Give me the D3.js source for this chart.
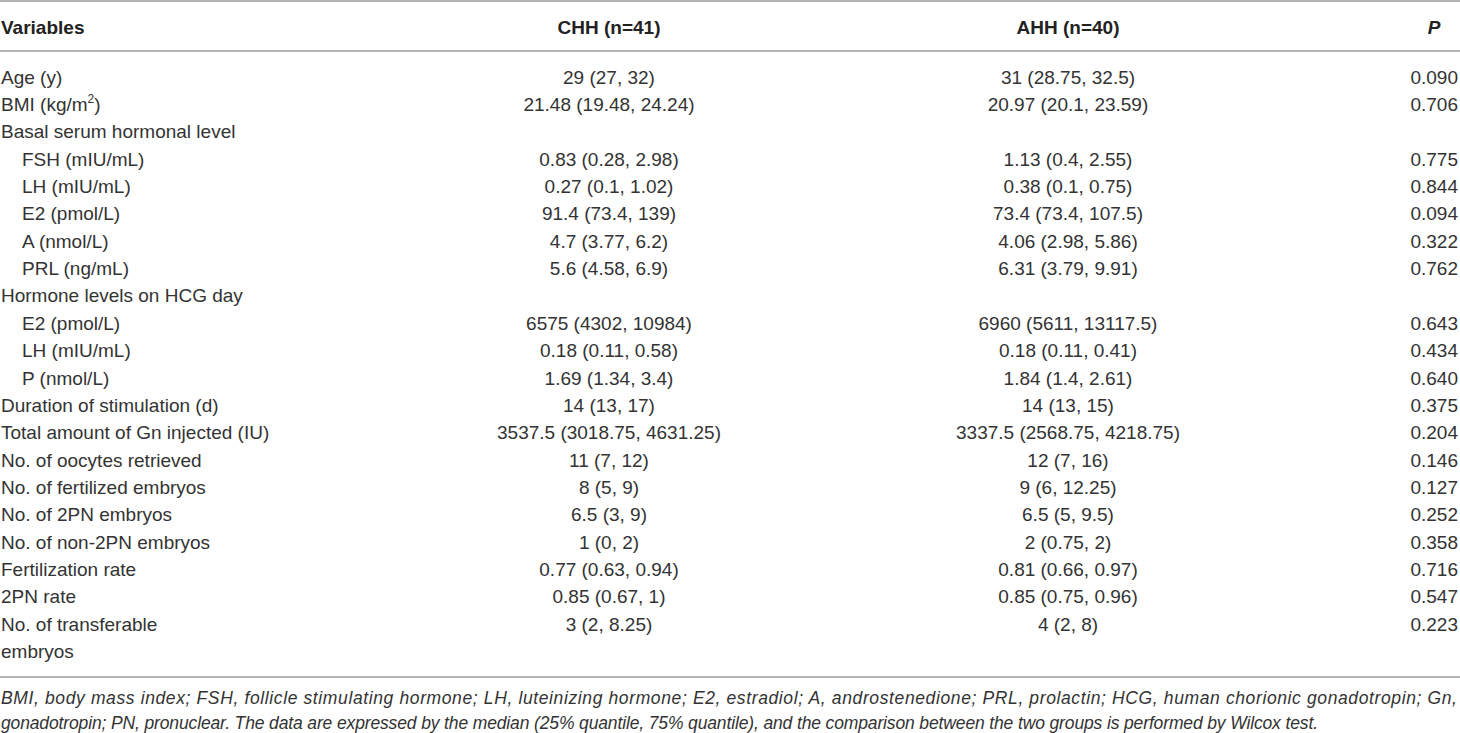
<!DOCTYPE html>
<html>
<head>
<meta charset="utf-8">
<script src="https://cdn.jsdelivr.net/npm/d3@7"></script>
<style>
  html, body { margin: 0; padding: 0; background: #fff; }
  svg { display: block; }
</style>
</head>
<body>
<script>
// ---- DATA ----
const headers = ["Variables", "CHH (n=41)", "AHH (n=40)", "P"];
const variables = [
  "Age (y)", "BMI (kg/m2)", "Basal serum hormonal level", "FSH (mIU/mL)", "LH (mIU/mL)",
  "E2 (pmol/L)", "A (nmol/L)", "PRL (ng/mL)", "Hormone levels on HCG day", "E2 (pmol/L)",
  "LH (mIU/mL)", "P (nmol/L)", "Duration of stimulation (d)", "Total amount of Gn injected (IU)",
  "No. of oocytes retrieved", "No. of fertilized embryos", "No. of 2PN embryos",
  "No. of non-2PN embryos", "Fertilization rate", "2PN rate", "No. of transferable|embryos"
];
const indented = [false,false,false,true,true,true,true,true,false,true,true,true,false,false,false,false,false,false,false,false,false];
const chhValues = [
  "29 (27, 32)", "21.48 (19.48, 24.24)", "", "0.83 (0.28, 2.98)", "0.27 (0.1, 1.02)",
  "91.4 (73.4, 139)", "4.7 (3.77, 6.2)", "5.6 (4.58, 6.9)", "", "6575 (4302, 10984)",
  "0.18 (0.11, 0.58)", "1.69 (1.34, 3.4)", "14 (13, 17)", "3537.5 (3018.75, 4631.25)",
  "11 (7, 12)", "8 (5, 9)", "6.5 (3, 9)", "1 (0, 2)", "0.77 (0.63, 0.94)", "0.85 (0.67, 1)", "3 (2, 8.25)"
];
const ahhValues = [
  "31 (28.75, 32.5)", "20.97 (20.1, 23.59)", "", "1.13 (0.4, 2.55)", "0.38 (0.1, 0.75)",
  "73.4 (73.4, 107.5)", "4.06 (2.98, 5.86)", "6.31 (3.79, 9.91)", "", "6960 (5611, 13117.5)",
  "0.18 (0.11, 0.41)", "1.84 (1.4, 2.61)", "14 (13, 15)", "3337.5 (2568.75, 4218.75)",
  "12 (7, 16)", "9 (6, 12.25)", "6.5 (5, 9.5)", "2 (0.75, 2)", "0.81 (0.66, 0.97)", "0.85 (0.75, 0.96)", "4 (2, 8)"
];
const pValues = [
  "0.090", "0.706", "", "0.775", "0.844", "0.094", "0.322", "0.762", "", "0.643",
  "0.434", "0.640", "0.375", "0.204", "0.146", "0.127", "0.252", "0.358", "0.716", "0.547", "0.223"
];
const footnoteLines = [
  "BMI, body mass index; FSH, follicle stimulating hormone; LH, luteinizing hormone; E2, estradiol; A, androstenedione; PRL, prolactin; HCG, human chorionic gonadotropin; Gn,",
  "gonadotropin; PN, pronuclear. The data are expressed by the median (25% quantile, 75% quantile), and the comparison between the two groups is performed by Wilcox test."
];

// ---- LAYOUT ----
const W = 1460, H = 733;
const FONT = "'Liberation Sans', Arial, Helvetica, sans-serif";
const TEXT = "#333333";
const RULE = "#9b9b9b";

const svg = d3.select("body").append("svg").attr("width", W).attr("height", H)
  .style("font-family", FONT);

// row scale: line index -> y centre
const nLines = 22;
const y = d3.scaleLinear().domain([0, nLines - 1]).range([77, 77 + 21 * 27.35]);
// column positions
const x = d3.scaleOrdinal().domain(["var", "chh", "ahh", "p"]).range([1, 609, 1068, 1458]);

// rules
const rules = [1, 51, 677];
svg.selectAll("line.rule").data(rules).join("line")
  .attr("class", "rule")
  .attr("x1", 0).attr("x2", W)
  .attr("y1", d => d).attr("y2", d => d)
  .attr("stroke", RULE).attr("stroke-width", 1.6);

// header
const hy = 27;
const hdr = svg.append("g").attr("font-weight", "bold").attr("font-size", 19).attr("fill", "#222");
hdr.append("text").attr("x", x("var")).attr("y", hy).attr("dy", "0.35em").text(headers[0]);
hdr.append("text").attr("x", x("chh")).attr("y", hy).attr("dy", "0.35em").attr("text-anchor", "middle").text(headers[1]);
hdr.append("text").attr("x", x("ahh")).attr("y", hy).attr("dy", "0.35em").attr("text-anchor", "middle").text(headers[2]);
hdr.append("text").attr("x", 1434).attr("y", hy).attr("dy", "0.35em").attr("text-anchor", "middle")
  .attr("font-style", "italic").text(headers[3]);

// body rows
const body = svg.append("g").attr("font-size", 19).attr("fill", TEXT);
const rowsData = variables.map((v, i) => ({ v, i, ind: indented[i], chh: chhValues[i], ahh: ahhValues[i], p: pValues[i] }));

rowsData.forEach(r => {
  const yy = y(r.i);
  const t = body.append("text").attr("x", x("var") + (r.ind ? 21 : 0)).attr("y", yy).attr("dy", "0.35em");
  if (r.v === "BMI (kg/m2)") {
    t.append("tspan").text("BMI (kg/m");
    t.append("tspan").attr("font-size", 12).attr("dy", "-0.7em").text("2");
    t.append("tspan").attr("dy", "0.45em").text(")");
  } else if (r.v.includes("|")) {
    const parts = r.v.split("|");
    t.append("tspan").text(parts[0]);
    t.append("tspan").attr("x", x("var")).attr("dy", y(1) - y(0)).text(parts[1]);
  } else {
    t.text(r.v);
  }
  body.append("text").attr("x", x("chh")).attr("y", yy).attr("dy", "0.35em").attr("text-anchor", "middle").text(r.chh);
  body.append("text").attr("x", x("ahh")).attr("y", yy).attr("dy", "0.35em").attr("text-anchor", "middle").text(r.ahh);
  body.append("text").attr("x", x("p")).attr("y", yy).attr("dy", "0.35em").attr("text-anchor", "end").text(r.p);
});

// footnote
const fy = [698, 723];
const fwidths = [1456, 1317];
svg.append("g").attr("font-size", 17.5).attr("font-style", "italic").attr("fill", TEXT)
  .selectAll("text").data(footnoteLines).join("text")
  .attr("x", 1).attr("y", (d, i) => fy[i]).attr("dy", "0.35em")
  .attr("textLength", (d, i) => fwidths[i]).attr("lengthAdjust", "spacing")
  .text(d => d);
</script>
</body>
</html>
